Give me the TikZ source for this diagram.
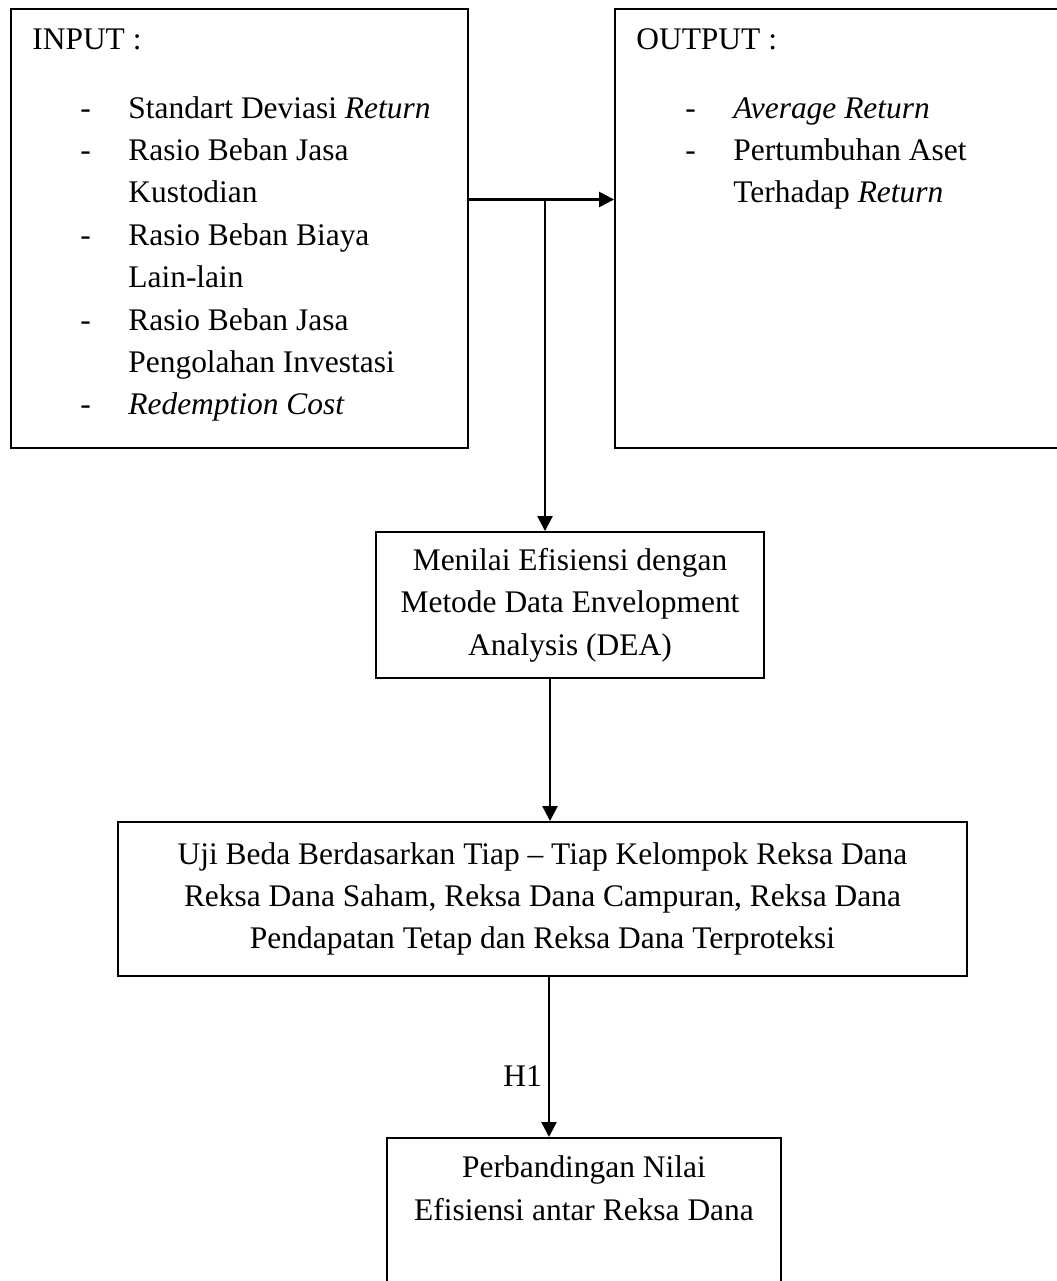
\documentclass[tikz,border=0pt]{standalone}
\usepackage{fontspec}
\setmainfont{Liberation Serif}
\usetikzlibrary{arrows.meta}

\tikzset{
  box/.style={draw, line width=1.1pt, inner sep=0pt, align=center},
  arr/.style={line width=1.4pt, -{Triangle[length=0.3cm,width=0.3cm]}},
  txt/.style={anchor=base west, inner sep=0pt},
}

\begin{document}
\begin{tikzpicture}[x=0.02cm, y=-0.02cm, font=\fontsize{17.9pt}{24.1pt}\selectfont]
\useasboundingbox (0,0) rectangle (1057,1281);

% input / output boxes
\node[box, minimum width=9.14cm, minimum height=8.78cm] (inbox) at (239.5,228.5) {};
\node[box, minimum width=9.0cm, minimum height=8.78cm] (outbox) at (840,228.5) {};

\node[txt] (in-title) at (32,50) {INPUT :};
\foreach \txt [count=\i] in {Standart Deviasi \emph{Return}, Rasio Beban Jasa, Kustodian,
    Rasio Beban Biaya, Lain-lain, Rasio Beban Jasa, Pengolahan Investasi, \emph{Redemption Cost}}{
 \node[txt] (in-\i) at (128,{118+42.4*(\i-1)}) {\txt};
}
\foreach \i in {1,2,4,6,8}{
 \node[txt] (in-dash-\i) at (80,{118+42.4*(\i-1)}) {-};
}

\node[txt] (out-title) at (636,50) {OUTPUT :};
\foreach \txt [count=\i] in {\emph{Average Return}, Pertumbuhan Aset, Terhadap \emph{Return}}{
 \node[txt] (out-\i) at (733,{118+42.4*(\i-1)}) {\txt};
}
\foreach \i in {1,2}{
 \node[txt] (out-dash-\i) at (685,{118+42.4*(\i-1)}) {-};
}

% process boxes
\node[box, minimum width=7.76cm, minimum height=2.92cm] (deabox) at (570,605)
  {Menilai Efisiensi dengan\\Metode Data Envelopment\\Analysis (DEA)};
\node[box, minimum width=16.98cm, minimum height=3.08cm] (ujibox) at (542.5,899)
  {Uji Beda Berdasarkan Tiap -- Tiap Kelompok Reksa Dana\\Reksa Dana Saham, Reksa Dana Campuran, Reksa Dana\\Pendapatan Tetap dan Reksa Dana Terproteksi};
\node[box, anchor=north, minimum width=7.88cm, minimum height=3.6cm] (hasilbox) at (584,1137) {};
\foreach \txt [count=\i] in {Perbandingan Nilai, Efisiensi antar Reksa Dana}{
 \node[anchor=base, inner sep=0pt] (hasil-\i) at (584,{1177+43*(\i-1)}) {\txt};
}

% connectors
\coordinate (split) at (545,199.5);
\draw[arr] (inbox.east |- split) -- (outbox.west |- split);
\draw[arr] (split) -- (split |- deabox.north);
\draw[arr] (deabox.south -| 550,0) -- (ujibox.north -| 550,0);
\draw[arr] (ujibox.south -| 549,0) -- node[left, pos=0.62] (h1) {H1} (hasilbox.north -| 549,0);
\end{tikzpicture}
\end{document}
